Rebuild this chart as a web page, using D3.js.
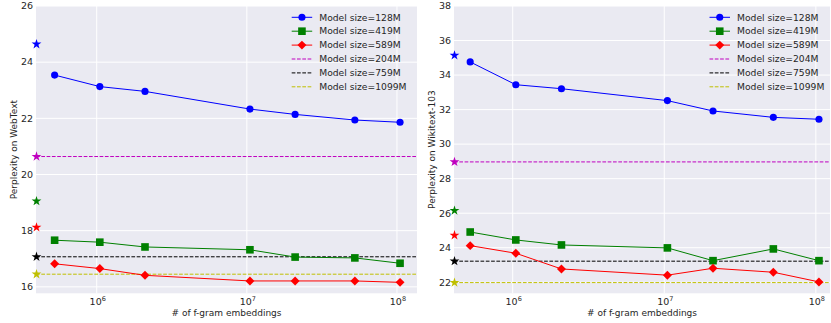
<!DOCTYPE html>
<html>
<head>
<meta charset="utf-8">
<script src="https://cdn.jsdelivr.net/npm/d3@7"></script>
<style>
  body { margin: 0; background: #fff; }
  svg { display: block; font-family: "DejaVu Sans", sans-serif; }
</style>
</head>
<body>
<div id="chart"></div>
<script>
// number of f-gram embeddings (x)
const fgramCounts = [524288, 1048576, 2097152, 10485760, 20971520, 52428800, 104857600];
const xTicks = [1e6, 1e7, 1e8];

// WebText perplexity
const webtext128 = [23.54, 23.13, 22.96, 22.33, 22.14, 21.94, 21.86];
const webtext419 = [17.66, 17.59, 17.42, 17.32, 17.06, 17.03, 16.84];
const webtext589 = [16.82, 16.65, 16.41, 16.21, 16.21, 16.21, 16.16];
// baselines (stars), order: 128M, 204M, 419M, 589M, 759M, 1099M
const webtextBase = [24.64, 20.64, 19.05, 18.12, 17.07, 16.45];
const webtextTicks = [16, 18, 20, 22, 24, 26];

// Wikitext-103 perplexity
const wiki128 = [34.76, 33.44, 33.21, 32.52, 31.92, 31.55, 31.44];
const wiki419 = [24.91, 24.45, 24.16, 23.99, 23.25, 23.93, 23.25];
const wiki589 = [24.12, 23.68, 22.77, 22.41, 22.81, 22.58, 22.02];
const wikiBase = [35.14, 28.97, 26.15, 24.72, 23.22, 21.98];
const wikiTicks = [22, 24, 26, 28, 30, 32, 34, 36, 38];

const baseSizes = ['128M', '204M', '419M', '589M', '759M', '1099M'];
const baseColors = ['#0000ff', '#bf00bf', '#008000', '#ff0000', '#000000', '#bfbf00'];
// series with f-gram embeddings
const seriesSizes = ['128M', '419M', '589M'];
const seriesColors = ['#0000ff', '#008000', '#ff0000'];
const seriesMarkers = ['circle', 'square', 'diamond'];
// dashed reference lines: index into baseSizes
const dashedIdx = [1, 4, 5];

const W = 831, H = 323;
const svg = d3.select('#chart').append('svg')
  .attr('width', W).attr('height', H);

const markerPath = (type)=>{
  if (type === 'circle') return d3.symbol(d3.symbolCircle, 40)();
  if (type === 'square') return d3.symbol(d3.symbolSquare, 58)();
  return d3.symbol(d3.symbolSquare, 40)();
};
const markerRot = (type)=> type === 'diamond' ? ' rotate(45)' : '';

const drawPanel = (cfg)=>{
  const g = svg.append('g');
  const x = d3.scaleLog().domain(cfg.xDomain).range([cfg.left, cfg.right]);
  const y = d3.scaleLinear().domain(cfg.yDomain).range([cfg.bottom, cfg.top]);

  // background
  g.append('rect')
    .attr('x', cfg.left).attr('y', cfg.top)
    .attr('width', cfg.right - cfg.left).attr('height', cfg.bottom - cfg.top)
    .attr('fill', '#eaeaf2');

  // grid
  g.append('g').selectAll('line.h')
    .data(cfg.yTicks)
    .join('line')
    .attr('x1', cfg.left).attr('x2', cfg.right)
    .attr('y1', d=>y(d)).attr('y2', d=>y(d))
    .attr('stroke', '#fff').attr('stroke-width', 1);
  g.append('g').selectAll('line.v')
    .data(xTicks)
    .join('line')
    .attr('x1', d=>x(d)).attr('x2', d=>x(d))
    .attr('y1', cfg.top).attr('y2', cfg.bottom)
    .attr('stroke', '#fff').attr('stroke-width', 1);

  // y tick labels
  g.append('g').selectAll('text')
    .data(cfg.yTicks)
    .join('text')
    .attr('x', cfg.left - 3)
    .attr('y', d=>y(d))
    .attr('dy', '0.35em')
    .attr('text-anchor', 'end')
    .attr('font-size', '9.5px')
    .attr('fill', '#262626')
    .text(d=>d);

  // x tick labels 10^n
  const xl = g.append('g').selectAll('text')
    .data(xTicks)
    .join('text')
    .attr('x', d=>x(d) + 1)
    .attr('y', cfg.bottom + 12)
    .attr('text-anchor', 'middle')
    .attr('font-size', '9.5px')
    .attr('fill', '#262626');
  xl.append('tspan').text('10');
  xl.append('tspan')
    .attr('dy', '-4')
    .attr('font-size', '6.5px')
    .text(d=>Math.round(Math.log10(d)));

  // axis labels
  g.append('text')
    .attr('x', (cfg.left + cfg.right) / 2)
    .attr('y', cfg.bottom + 23)
    .attr('text-anchor', 'middle')
    .attr('font-size', '9px')
    .attr('fill', '#262626')
    .text('# of f-gram embeddings');
  g.append('text')
    .attr('transform', `translate(${cfg.left - 19}, ${(cfg.top + cfg.bottom) / 2}) rotate(-90)`)
    .attr('text-anchor', 'middle')
    .attr('font-size', '9px')
    .attr('fill', '#262626')
    .text(cfg.yLabel);

  // dashed baselines
  g.append('g').selectAll('line')
    .data(dashedIdx)
    .join('line')
    .attr('x1', x(cfg.xDomain[0])).attr('x2', cfg.right)
    .attr('y1', i=>y(cfg.base[i])).attr('y2', i=>y(cfg.base[i]))
    .attr('stroke', i=>baseColors[i])
    .attr('stroke-width', 1)
    .attr('stroke-dasharray', '3.7,1.6');

  // series lines + markers
  const line = d3.line().x((d, i)=>x(fgramCounts[i])).y(d=>y(d));
  cfg.series.forEach((vals, s)=>{
    g.append('path')
      .attr('d', line(vals))
      .attr('fill', 'none')
      .attr('stroke', seriesColors[s])
      .attr('stroke-width', 1);
    g.append('g').selectAll('path')
      .data(vals)
      .join('path')
      .attr('d', markerPath(seriesMarkers[s]))
      .attr('transform', (d, i)=>`translate(${x(fgramCounts[i])},${y(d)})${markerRot(seriesMarkers[s])}`)
      .attr('fill', seriesColors[s]);
  });

  // baseline stars
  g.append('g').selectAll('path')
    .data(cfg.base)
    .join('path')
    .attr('d', d3.symbol(d3.symbolStar, 30)())
    .attr('transform', d=>`translate(${x(cfg.xDomain[0]) + 0.5},${y(d)})`)
    .attr('fill', (d, i)=>baseColors[i]);

  // legend
  const lg = g.append('g').attr('transform', `translate(${cfg.legendX}, 17.3)`);
  const entries = seriesSizes.map((s, i)=>({label: s, color: seriesColors[i], marker: seriesMarkers[i]}))
    .concat(dashedIdx.map(i=>({label: baseSizes[i], color: baseColors[i], marker: null})));
  entries.forEach((e, i)=>{
    const row = lg.append('g').attr('transform', `translate(0, ${i * 13.9})`);
    row.append('line')
      .attr('x1', 0).attr('x2', 20.5)
      .attr('stroke', e.color).attr('stroke-width', 1)
      .attr('stroke-dasharray', e.marker ? null : '3.7,1.6');
    if (e.marker) {
      row.append('path')
        .attr('d', markerPath(e.marker))
        .attr('transform', `translate(10.25,0)${markerRot(e.marker)}`)
        .attr('fill', e.color);
    }
    row.append('text')
      .attr('x', 27.5).attr('dy', '0.35em')
      .attr('font-size', '9.2px')
      .attr('fill', '#262626')
      .text('Model size=' + e.label);
  });
};

drawPanel({
  left: 36, right: 417, top: 6, bottom: 293.3,
  xDomain: [3.94e5, 1.36e8], yDomain: [15.77, 26],
  yTicks: webtextTicks, yLabel: 'Perplexity on WebText',
  series: [webtext128, webtext419, webtext589], base: webtextBase,
  legendX: 291.7
});
drawPanel({
  left: 454, right: 830, top: 6, bottom: 293.3,
  xDomain: [4.1e5, 1.24e8], yDomain: [21.36, 38],
  yTicks: wikiTicks, yLabel: 'Perplexity on Wikitext-103',
  series: [wiki128, wiki419, wiki589], base: wikiBase,
  legendX: 709.5
});
</script>
</body>
</html>
